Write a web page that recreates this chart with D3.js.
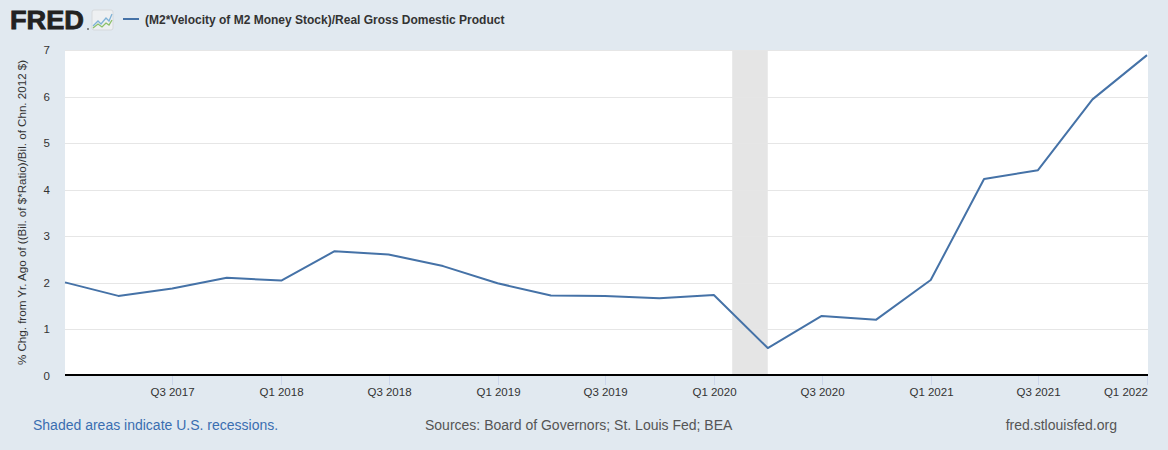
<!DOCTYPE html>
<html><head><meta charset="utf-8">
<script src="https://cdn.jsdelivr.net/npm/d3@7"></script>
<style>
html,body{margin:0;padding:0;background:#e1e9f0;}
svg{display:block;font-family:"Liberation Sans",Arial,Helvetica,sans-serif;}
</style></head><body>
<svg id="c" width="1168" height="450"></svg>
<script>
const quarters = ["2017-01-01","2017-04-01","2017-07-01","2017-10-01","2018-01-01","2018-04-01","2018-07-01","2018-10-01","2019-01-01","2019-04-01","2019-07-01","2019-10-01","2020-01-01","2020-04-01","2020-07-01","2020-10-01","2021-01-01","2021-04-01","2021-07-01","2021-10-01","2022-01-01"];
const values = [2.01,1.72,1.88,2.11,2.05,2.68,2.61,2.36,1.99,1.73,1.72,1.67,1.74,0.60,1.29,1.21,2.06,4.23,4.42,5.94,6.89];
const tickDates = ["2017-07-01","2018-01-01","2018-07-01","2019-01-01","2019-07-01","2020-01-01","2020-07-01","2021-01-01","2021-07-01","2022-01-01"];
const tickLabels = ["Q3 2017","Q1 2018","Q3 2018","Q1 2019","Q3 2019","Q1 2020","Q3 2020","Q1 2021","Q3 2021","Q1 2022"];
const yTicks = [0,1,2,3,4,5,6,7];
const recessions = [["2020-02-01","2020-04-01"]];
const seriesName = "(M2*Velocity of M2 Money Stock)/Real Gross Domestic Product";
const yTitle = "% Chg. from Yr. Ago of ((Bil. of $*Ratio)/Bil. of Chn. 2012 $)";

const parse = d3.timeParse("%Y-%m-%d");
const svg = d3.select("#c");
const L = 65, R = 1148, T = 50, B = 375;

const x = d3.scaleTime().domain([parse(quarters[0]), parse(quarters[quarters.length-1])]).range([L, R-1]);
const y = d3.scaleLinear().domain([0,7]).range([B+1, T]);

// plot background
svg.append("rect").attr("x",L).attr("y",T).attr("width",R-L).attr("height",B-T).attr("fill","#fff");

// recession shading
svg.selectAll(".rec").data(recessions).enter().append("rect")
  .attr("x",d=>x(parse(d[0]))).attr("y",T)
  .attr("width",d=>x(parse(d[1]))-x(parse(d[0]))).attr("height",B-T)
  .attr("fill","#e5e5e5");

// grid lines
svg.append("g").selectAll("line").data(yTicks.filter(v=>v>0)).enter().append("line")
  .attr("x1",L).attr("x2",R).attr("y1",d=>Math.round(y(d))+0.5).attr("y2",d=>Math.round(y(d))+0.5)
  .attr("stroke","#e6e6e6").attr("stroke-width",1);

// y labels
svg.append("g").selectAll("text").data(yTicks).enter().append("text")
  .attr("x",50).attr("y",d=>y(d)+4).attr("text-anchor","end")
  .attr("font-size","11.5px").attr("fill","#333").text(d=>d);

// y title
svg.append("text").attr("transform",`translate(26,${(T+B)/2}) rotate(-90)`)
  .attr("text-anchor","middle").attr("font-size","11.6px").attr("fill","#333").text(yTitle);

// x axis ticks
const xt = svg.append("g");
tickDates.forEach((d,i)=>{
  const px = Math.round(x(parse(d)))+0.5;
  xt.append("line").attr("x1",px).attr("x2",px).attr("y1",B).attr("y2",B+10).attr("stroke","#ccd6eb");
  const last = i===tickDates.length-1;
  xt.append("text").attr("x", last ? R : px).attr("y",B+21)
    .attr("text-anchor", last ? "end" : "middle")
    .attr("font-size","11.5px").attr("fill","#333").text(tickLabels[i]);
});

// line
const line = d3.line().x((d,i)=>x(parse(quarters[i]))).y(d=>y(d));
svg.append("path").datum(values).attr("d",line).attr("fill","none")
  .attr("stroke","#4572a7").attr("stroke-width",2).attr("stroke-linejoin","round");

// axis line
svg.append("line").attr("x1",L).attr("x2",R).attr("y1",B).attr("y2",B).attr("stroke","#000").attr("stroke-width",2);

// header: FRED logo
svg.append("text").attr("x",10).attr("y",29).attr("font-size","26px").attr("font-weight","bold")
  .attr("fill","#222").attr("stroke","#222").attr("stroke-width",0.8)
  .attr("textLength",74).attr("lengthAdjust","spacingAndGlyphs").text("FRED");
svg.append("circle").attr("cx",88).attr("cy",29).attr("r",1).attr("fill","#666");
const ic = svg.append("g");
ic.append("rect").attr("x",92).attr("y",10).attr("width",21).attr("height",20).attr("rx",2).attr("fill","#eef0f2").attr("stroke","#d6d9dc");
ic.append("path").attr("d","M93,26 L98,21 L101,24 L106,18 L109,21 L112,14").attr("fill","none").attr("stroke","#7fb2d6").attr("stroke-width",1.3);
ic.append("path").attr("d","M93,28 L98,24 L102,27 L106,23 L109,25 L112,20").attr("fill","none").attr("stroke","#8cc06a").attr("stroke-width",1.3);

// legend
svg.append("line").attr("x1",123).attr("x2",139).attr("y1",19).attr("y2",19).attr("stroke","#4572a7").attr("stroke-width",2);
svg.append("text").attr("x",145).attr("y",23.5).attr("font-size","12px").attr("font-weight","bold").attr("fill","#333").text(seriesName);

// footer
svg.append("text").attr("x",33).attr("y",430).attr("font-size","14px").attr("fill","#3a6eb0").text("Shaded areas indicate U.S. recessions.");
svg.append("text").attr("x",425).attr("y",430).attr("font-size","14px").attr("fill","#555").text("Sources: Board of Governors; St. Louis Fed; BEA");
svg.append("text").attr("x",1117).attr("y",430).attr("text-anchor","end").attr("font-size","14px").attr("fill","#555").text("fred.stlouisfed.org");
</script>
</body></html>
